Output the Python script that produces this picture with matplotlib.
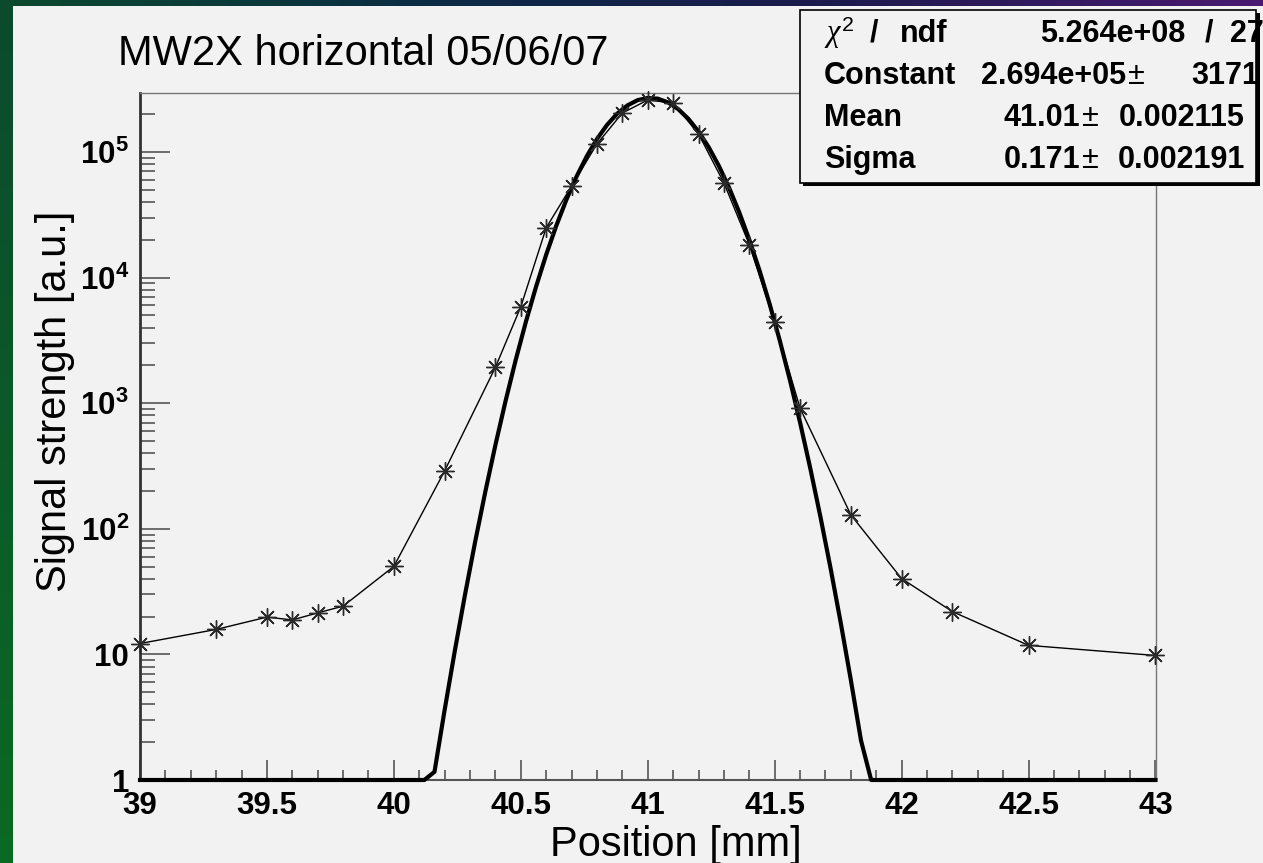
import numpy as np
import matplotlib
matplotlib.use('Agg')
from matplotlib import pyplot as plt
from matplotlib.patches import Rectangle
from matplotlib.colors import LinearSegmentedColormap

plt.rcParams['font.family'] = ['Liberation Sans', 'DejaVu Sans']
plt.rcParams['mathtext.fontset'] = 'custom'
plt.rcParams['mathtext.rm'] = 'Liberation Sans'
plt.rcParams['mathtext.bf'] = 'Liberation Sans:bold'
plt.rcParams['mathtext.it'] = 'Liberation Serif:italic'

# wire scan data
position = [39.0, 39.3, 39.5, 39.6, 39.7, 39.8, 40.0, 40.2, 40.4, 40.5, 40.6, 40.7, 40.8,
            40.9, 41.0, 41.1, 41.2, 41.3, 41.4, 41.5, 41.6, 41.8, 42.0, 42.2, 42.5, 43.0]
signal = [12.2, 15.8, 19.8, 18.8, 21.4, 24.2, 50.2, 289, 1930, 5850, 24900, 53400, 115700,
          204000, 259000, 245000, 139000, 56700, 18300, 4400, 912, 129, 40.1, 21.9, 11.8, 9.8]

# gaussian fit parameters (from the stats box)
fit_constant = 2.694e5
fit_mean = 41.01
fit_sigma = 0.171
stat_names = ['Constant', 'Mean', 'Sigma']
stat_values = ['2.694e+05', '41.01', '0.171']
stat_errors = ['3171', '0.002115', '0.002191']
chi2 = '5.264e+08'
ndf = '27'

x_ticks = [39, 39.5, 40, 40.5, 41, 41.5, 42, 42.5, 43]
x_labels = ['39', '39.5', '40', '40.5', '41', '41.5', '42', '42.5', '43']
y_ticks = [1, 10, 1e2, 1e3, 1e4, 1e5]
y_labels = ['1', '10', r'$\mathbf{10^{2}}$', r'$\mathbf{10^{3}}$',
            r'$\mathbf{10^{4}}$', r'$\mathbf{10^{5}}$']

W, H = 1263, 863
fig = plt.figure(figsize=(W / 100, H / 100), dpi=100)
fig.patch.set_facecolor('#0b5a2c')

# slide background behind the ROOT canvas
bg = fig.add_axes([0, 0, 1, 1], zorder=-10)
top_cmap = LinearSegmentedColormap.from_list('top', ['#0c4a2e', '#0b2c44', '#1d1a4e', '#4a1a70'])
side_cmap = LinearSegmentedColormap.from_list('side', ['#0c4a2e', '#0a6a22'])
bg.imshow(np.linspace(0, 1, 256)[None, :], cmap=top_cmap, extent=[0, W, 6, 0], aspect='auto')
bg.imshow(np.linspace(0, 1, 256)[:, None], cmap=side_cmap, extent=[0, 13, H, 0], aspect='auto')
bg.add_patch(Rectangle((13, 6), W - 13, H - 6, facecolor='#f2f2f2', edgecolor='none'))
bg.set_xlim(0, W)
bg.set_ylim(H, 0)
bg.axis('off')

ax = fig.add_axes([140 / W, 1 - 780 / H, (1155.5 - 140) / W, (780 - 92.7) / H])
ax.set_facecolor('#f2f2f2')
ax.set_yscale('log')

ax.plot(position, signal, color='black', lw=1.0, marker=(8, 2, 0), ms=13,
        mec='#2a2a2a', mew=1.0, clip_on=False, zorder=4)

xf = np.linspace(39, 43, 101)
yf = fit_constant * np.exp(-0.5 * ((xf - fit_mean) / fit_sigma) ** 2)
yf = np.maximum(yf, 1)
ax.plot(xf, yf, color='black', lw=3, clip_on=False, zorder=3)

ax.set_xlim(39, 43)
ax.set_ylim(1, 2.96e5)
ax.set_xticks(x_ticks, x_labels, fontsize=22.5, fontweight='bold')
ax.set_xticks(np.arange(39, 43.001, 0.1), minor=True)
ax.set_yticks(y_ticks, y_labels, fontsize=22.5, fontweight='bold')
ax.yaxis.set_minor_locator(matplotlib.ticker.LogLocator(base=10, subs=np.arange(2, 10), numticks=20))
ax.yaxis.set_minor_formatter(matplotlib.ticker.NullFormatter())

ax.tick_params(axis='both', which='both', direction='in', top=False, right=False,
               color='#555555', labelcolor='black')
ax.tick_params(axis='y', which='major', length=21.6, width=1.2, pad=8)
ax.tick_params(axis='y', which='minor', length=10.8, width=1.2)
ax.tick_params(axis='x', which='major', length=14.4, width=1.2, pad=8)
ax.tick_params(axis='x', which='minor', length=7.2, width=1.2)

ax.spines['left'].set_color('#333333')
ax.spines['left'].set_linewidth(2)
ax.spines['bottom'].set_color('#555555')
ax.spines['bottom'].set_linewidth(1.5)
for s in ['top', 'right']:
    ax.spines[s].set_color('#777777')
    ax.spines[s].set_linewidth(1)

fig.text(118 / W, 1 - 65 / H, 'MW2X horizontal 05/06/07', fontsize=30, ha='left', va='baseline')
fig.text(55 / W, 1 - 401 / H, 'Signal strength [a.u.]', fontsize=30, rotation=90,
         ha='center', va='center')
fig.text(676 / W, 1 - 856 / H, 'Position [mm]', fontsize=30, ha='center', va='baseline')

# stats box
ov = fig.add_axes([0, 0, 1, 1], zorder=10)
ov.set_xlim(0, W)
ov.set_ylim(H, 0)
ov.axis('off')
ov.add_patch(Rectangle((803, 13), 457, 173, facecolor='black', edgecolor='none'))
box = Rectangle((800, 10), 456, 173, facecolor='#f2f2f2', edgecolor='black', lw=1.2)
ov.add_patch(box)

def stat_text(x, y, s, ha='left', weight='bold'):
    t = ov.text(x, y, s, fontsize=22, fontweight=weight, ha=ha, va='baseline')
    t.set_clip_path(box)
    return t

stat_text(824, 42, r'$\chi^{2}$')
stat_text(870, 42, '/')
stat_text(900, 42, 'ndf')
stat_text(1185, 42, chi2, ha='right')
stat_text(1205, 42, '/')
stat_text(1230, 42, ndf)

rows_y = [84, 126, 168]
val_right = [1126, 1080, 1080]
pm_x = [1128, 1082, 1082]
err_right = [1259, 1245, 1245]
for i in range(3):
    stat_text(824, rows_y[i], stat_names[i])
    stat_text(val_right[i], rows_y[i], stat_values[i], ha='right')
    stat_text(pm_x[i], rows_y[i], '±', weight='normal')
    stat_text(err_right[i], rows_y[i], stat_errors[i], ha='right')

plt.savefig('out.png', dpi=100, facecolor=fig.get_facecolor())
